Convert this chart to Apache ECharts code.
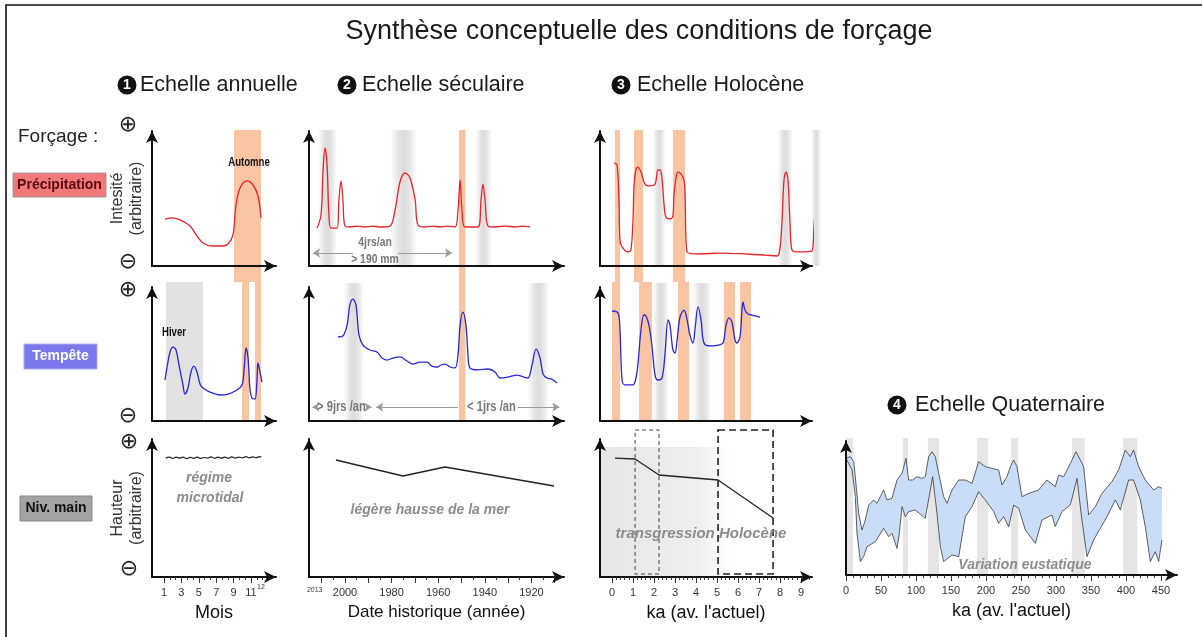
<!DOCTYPE html>
<html><head><meta charset="utf-8">
<script src="https://cdn.jsdelivr.net/npm/echarts@6/dist/echarts.min.js"></script>
<style>html,body{margin:0;padding:0;background:#fff}#c{width:1202px;height:637px}</style>
</head><body><div id="c"></div>
<script>
// ================= DATA =================
// Column 1 - annual scale, x = month, y = arbitrary intensity (0-100)
const monthTickLabels = [1, 3, 5, 7, 9, 11, 12];
const annualPrecip = [[1.11,34.8],[1.92,35.6],[2.84,34.1],[3.99,29.6],[4.79,22.2],[5.48,17.0],[6.52,14.8],[7.67,14.8],[8.36,16.3],[8.93,23.0],[9.28,45.2],[9.74,57.8],[10.54,63.0],[11.23,60.0],[11.80,51.9],[12.15,35.6]];
const annualStorm = [[1.11,30.6],[1.34,39.6],[1.69,51.5],[2.03,55.2],[2.38,53.0],[2.72,41.8],[3.18,26.9],[3.41,20.1],[3.76,24.6],[4.10,36.6],[4.45,41.0],[4.79,36.6],[5.14,27.6],[5.48,24.6],[6.29,21.6],[7.44,19.4],[8.36,20.1],[9.39,23.1],[9.97,26.9],[10.20,38.1],[10.43,54.5],[10.66,47.0],[10.89,23.1],[11.11,17.2],[11.46,16.4],[11.69,30.6],[11.80,43.3],[12.03,36.6],[12.26,29.1]];
const annualLevel = [[1.2,86.0],[1.6,86.9],[2.0,85.9],[2.4,86.8],[2.8,86.1],[3.2,86.9],[3.6,85.8],[4.0,86.7],[4.4,86.0],[4.8,86.9],[5.2,85.9],[5.6,86.6],[6.0,86.2],[6.4,87.0],[6.8,86.0],[7.2,86.8],[7.6,86.1],[8.0,86.9],[8.4,86.0],[8.8,87.1],[9.2,86.2],[9.6,86.9],[10.0,86.3],[10.4,87.2],[10.8,86.4],[11.2,87.0],[11.6,86.5],[12.0,87.2],[12.2,86.9]];
const annualAutumn = [[9.05, 12.15]];
const annualStormBands = [[9.97, 10.77], [11.46, 12.15]];
const annualWinter = [[1.23, 5.48]];

// Column 2 - secular scale, x = year
const yearTickLabels = [2013, 2000, 1980, 1960, 1940, 1920];
const secularPrecip = [[2012.0,28.1],[2010.3,37.8],[2009.4,71.1],[2008.6,87.4],[2007.7,74.8],[2006.9,37.8],[2006.0,28.1],[2003.4,28.1],[2002.6,48.9],[2001.7,63.0],[2000.9,48.9],[2000.0,29.6],[1997.9,28.9],[1994.4,29.6],[1991.4,28.9],[1988.4,29.6],[1985.0,28.9],[1980.7,29.6],[1978.5,41.5],[1976.4,62.2],[1974.2,68.9],[1972.1,65.2],[1969.9,48.9],[1968.7,30.4],[1965.7,28.9],[1962.7,29.6],[1959.2,28.9],[1956.2,29.6],[1952.8,28.9],[1951.5,41.5],[1950.6,63.7],[1949.8,41.5],[1948.5,28.9],[1942.9,28.9],[1941.6,48.9],[1940.8,60.7],[1939.9,48.9],[1938.6,29.6],[1935.6,28.9],[1931.3,29.6],[1927.0,28.9],[1924.0,29.6],[1920.6,28.9]];
const secularStorm = [[2003.0,62.7],[2000.9,63.4],[1999.1,71.6],[1997.9,86.6],[1996.6,91.0],[1995.3,86.6],[1994.0,64.2],[1992.3,56.7],[1989.3,53.0],[1986.3,51.5],[1984.1,47.0],[1982.0,45.5],[1979.4,47.0],[1976.4,47.8],[1973.4,44.8],[1970.8,42.5],[1967.8,44.0],[1964.8,44.0],[1962.7,41.0],[1960.5,40.3],[1958.8,41.8],[1957.1,42.5],[1954.9,40.3],[1952.8,39.6],[1951.5,49.3],[1950.6,71.6],[1949.4,81.3],[1948.1,71.6],[1947.2,49.3],[1946.4,39.6],[1942.9,38.1],[1938.6,38.8],[1935.6,36.6],[1933.5,32.1],[1930.0,32.8],[1926.2,34.3],[1923.2,32.8],[1921.5,32.1],[1919.7,41.8],[1918.0,53.7],[1916.3,47.0],[1915.0,35.1],[1913.3,32.1],[1911.2,31.3],[1909.0,28.4]];
const secularLevel = [[2003.9,84.8],[1975.1,73.2],[1957.1,79.7],[1910.3,65.9]];
const secularGreyTop = [[2011.5,2003.5],[1980.5,1969.0],[1944.0,1937.0]];
const secularOrange = [[1951.1,1948.3]];
const secularGreyMid = [[2000.5,1991.8],[1921.5,1912.5]];

// Column 3 - Holocene scale, x = ka before present
const holoTickLabels = [0,1,2,3,4,5,6,7,8,9];
const holoPrecip = [[0.10,76.3],[0.24,74.8],[0.33,48.9],[0.38,19.3],[0.48,14.1],[0.76,10.4],[0.90,11.9],[1.00,34.1],[1.05,60.0],[1.14,71.1],[1.24,73.3],[1.38,69.6],[1.57,60.7],[1.81,59.3],[2.05,60.7],[2.19,71.1],[2.29,71.1],[2.38,65.2],[2.48,45.2],[2.57,36.3],[2.76,34.8],[2.90,37.0],[2.95,52.6],[3.05,65.2],[3.14,69.6],[3.29,68.1],[3.43,63.7],[3.48,52.6],[3.57,10.4],[4.19,8.9],[5.14,9.6],[6.43,8.9],[7.29,8.1],[7.86,7.4],[8.00,13.3],[8.10,34.1],[8.19,63.7],[8.29,69.6],[8.38,63.7],[8.48,30.4],[8.57,11.9],[8.95,10.4],[9.52,11.1],[9.62,30.0],[9.72,45.0],[9.86,51.9]];
const holoStorm = [[0.00,82.1],[0.29,80.6],[0.38,67.9],[0.48,30.6],[0.62,26.9],[1.00,26.9],[1.14,32.1],[1.24,43.3],[1.38,67.9],[1.52,79.1],[1.62,78.4],[1.76,71.6],[1.90,56.7],[2.05,34.3],[2.19,30.6],[2.38,32.1],[2.52,49.3],[2.67,75.4],[2.76,71.6],[2.90,53.0],[3.00,50.7],[3.10,60.4],[3.24,77.6],[3.43,82.8],[3.57,76.1],[3.71,64.2],[3.86,58.2],[3.95,67.9],[4.10,85.1],[4.24,75.4],[4.38,58.2],[4.67,56.0],[5.05,56.7],[5.29,58.2],[5.43,71.6],[5.57,76.9],[5.71,73.9],[5.86,60.4],[5.95,58.2],[6.10,63.4],[6.19,82.8],[6.24,88.8],[6.33,82.8],[6.48,79.9],[6.67,79.1],[7.05,77.6]];
const holoLevel = [[0.14,86.2],[1.10,85.5],[2.24,73.9],[5.05,70.3],[7.67,42.8]];
const holoOrangeTop = [[0.14,0.38],[1.05,1.48],[2.90,3.48]];
const holoOrangeMid = [[0.0,0.38],[1.29,1.90],[3.14,3.67],[5.33,5.86],[6.10,6.62]];
const holoGreyTop = [[1.95,2.55],[7.9,8.6],[9.5,9.95]];
const holoGreyMid = [[1.95,2.7],[3.85,4.75]];
const holoTransgression = [[-0.57,6.1]];
const holoBoxes = [[1.10,2.24],[5.05,7.67]];

// Column 4 - Quaternary scale, x = ka before present
const quatTickLabels = [0,50,100,150,200,250,300,350,400,450];
const quatUpper = [[0,87.1],[6.2,88.3],[11.0,84.6],[13.3,73.4],[18.1,46.0],[22.9,33.6],[27.6,41.0],[32.4,52.2],[39.5,56.0],[44.3,53.5],[49.0,58.5],[53.8,63.4],[58.6,56.0],[65.7,57.2],[72.9,70.9],[80.0,75.9],[85.7,87.1],[89.5,70.9],[95.2,70.9],[101.4,73.4],[108.6,72.1],[113.3,73.4],[118.1,88.3],[122.9,92.0],[127.6,88.3],[132.4,75.9],[139.5,58.5],[144.3,53.5],[151.4,63.4],[161.0,70.9],[170.5,70.9],[180.0,68.4],[189.5,84.6],[199.0,80.8],[218.1,78.4],[222.9,67.2],[230.0,73.4],[234.8,80.8],[239.5,85.8],[244.3,80.8],[251.4,58.5],[261.0,60.9],[275.2,63.4],[287.1,70.9],[299.0,65.9],[303.8,74.6],[311.0,73.4],[320.5,83.3],[328.6,92.0],[334.8,85.8],[339.5,80.8],[346.7,44.8],[356.2,51.0],[365.7,60.9],[380.0,69.7],[389.5,78.4],[399.0,93.3],[406.2,88.3],[410.9,93.3],[418.1,80.8],[427.6,70.9],[439.5,63.4],[446.7,65.9],[451.4,64.7]];
const quatLower = [[0,87.1],[8.6,78.4],[13.3,58.5],[15.7,31.1],[20.5,10.0],[25.2,13.7],[30.0,21.1],[41.9,24.9],[53.8,34.8],[61.0,28.6],[65.7,31.1],[72.9,19.9],[76.2,31.1],[80.0,51.0],[84.8,43.5],[89.5,47.3],[99.0,48.5],[113.3,42.3],[123.8,73.4],[130.0,46.0],[134.8,21.1],[139.5,10.0],[151.4,14.9],[161.0,13.7],[170.5,43.5],[180.0,51.0],[189.5,62.2],[199.0,56.0],[211.0,47.3],[218.1,38.6],[225.2,43.5],[232.4,36.1],[239.5,52.2],[246.7,49.8],[256.2,33.6],[270.5,23.6],[280.0,41.0],[294.3,44.8],[299.0,36.1],[308.6,47.3],[320.5,52.2],[330.0,72.1],[337.1,41.0],[344.3,13.7],[353.8,26.1],[363.3,34.8],[372.9,43.5],[384.8,56.0],[391.9,48.5],[403.8,70.9],[410.9,70.9],[420.5,56.0],[427.6,36.1],[434.8,10.0],[441.9,17.4],[446.7,10.0],[451.4,26.1]];
const quatGrey = [[0,10],[81.4,88.6],[117,133],[187,203],[236,246],[323,341],[396,416]];

// ================= LAYOUT =================
const FONT = '"Liberation Sans", Arial, sans-serif';
const COL = {
  c1: {left:152, width:124, range:[-0.379, 13.874]},
  c2: {left:309, width:255, range:[-2015.45, -1906.0]},
  c3: {left:600, width:212, range:[-0.571, 9.524]},
  c4: {left:846, width:331, range:[0, 472.9]}
};
const ORANGE = '#f9c4a1';
const RED = '#e8232b', BLUE = '#2626dc';

const grids = [], xAxes = [], yAxes = [], series = [];
function addGrid(col, top, height, visible, yName) {
  const g = grids.length;
  grids.push({left:col.left, top:top, width:col.width, height:height, containLabel:false, outerBoundsMode:'none'});
  const axisLine = {show:visible, onZero:false, lineStyle:{color:'#111', width:2}, symbol:['none','arrow'], symbolSize:[9,12]};
  const xi = xAxes.length;
  xAxes.push({gridIndex:g, type:'value', min:col.range[0], max:col.range[1], show:visible, axisLine:axisLine,
    axisTick:{show:false}, axisLabel:{show:false}, splitLine:{show:false}, z:5});
  const yi = yAxes.length;
  const y = {gridIndex:g, type:'value', min:0, max:100, show:visible, axisLine:axisLine,
    axisTick:{show:false}, axisLabel:{show:false}, splitLine:{show:false}, z:5};
  if (yName) Object.assign(y, {name:yName, nameLocation:'middle', nameRotate:90, nameGap:6,
    nameTextStyle:{fontFamily:FONT, fontSize:16, color:'#333', lineHeight:19, align:'center'}});
  yAxes.push(y);
  return {g:g, x:xi, y:yi, col:col};
}
function addTicks(p, major, minor, labels, fmt, name, nameSize) {
  const base = {gridIndex:p.g, type:'value', min:p.col.range[0], max:p.col.range[1], position:'bottom',
    axisLine:{show:false, onZero:false}, splitLine:{show:false}, z:5};
  xAxes.push(Object.assign({}, base, {axisTick:{show:true, customValues:minor, length:3, lineStyle:{color:'#333', width:1}}, axisLabel:{show:false}}));
  xAxes.push(Object.assign({}, base, {
    axisTick:{show:true, customValues:major, length:6, lineStyle:{color:'#333', width:1}},
    axisLabel:{show:true, customValues:labels, formatter:fmt, margin:10, fontSize:11, color:'#333', fontFamily:FONT, hideOverlap:false,
      rich:{s:{fontSize:7, color:'#333', fontFamily:FONT, padding:[0,0,12,0]}}},
    name:name, nameLocation:'middle', nameGap:27, nameTextStyle:{fontSize:nameSize, color:'#111', fontFamily:FONT}}));
}
function addLine(p, data, color, width, smooth) {
  series.push({type:'line', xAxisIndex:p.x, yAxisIndex:p.y, data:data, showSymbol:false, symbol:'none',
    smooth:smooth, clip:false, silent:true, z:3, animation:false, lineStyle:{color:color, width:width}});
}
function addBands(p, ranges, style, z) {
  series.push({type:'custom', xAxisIndex:p.x, yAxisIndex:p.y, clip:false, silent:true, z:z || 1, animation:false,
    data: ranges.map(r => [r[0], r[1], 50]), encode:{x:[0,1], y:2},
    renderItem: function (params, api) {
      const a = api.coord([api.value(0), 100]);
      const b = api.coord([api.value(1), 0]);
      const st = typeof style === 'function' ? style(params.dataIndex) : style;
      return {type:'rect', shape:{x:Math.min(a[0], b[0]), y:a[1], width:Math.abs(b[0]-a[0]), height:b[1]-a[1]}, style:st};
    }});
}
const soft = () => new echarts.graphic.LinearGradient(0,0,1,0,[
  {offset:0, color:'rgba(222,222,222,0)'},{offset:0.3, color:'rgba(222,222,222,0.8)'},
  {offset:0.5, color:'rgba(218,218,218,0.95)'},{offset:0.7, color:'rgba(222,222,222,0.8)'},{offset:1, color:'rgba(222,222,222,0)'}]);
const neg = arr => arr.map(d => [-d[0], d[1]]);
const negR = arr => arr.map(r => [-r[0], -r[1]]);

// ---------- overlays (bands) ----------
const o1a = addGrid(COL.c1, 130, 152, false);
const o1b = addGrid(COL.c1, 282, 139, false);
const o2a = addGrid(COL.c2, 130, 136, false);
const o2b = addGrid(COL.c2, 130, 291, false);
const o2c = addGrid(COL.c2, 283, 138, false);
const o3a = addGrid(COL.c3, 130, 152, false);
const o3b = addGrid(COL.c3, 282, 139, false);
const o3c = addGrid(COL.c3, 130, 136, false);
const o3d = addGrid(COL.c3, 283, 138, false);
const o3e = addGrid(COL.c3, 447, 130, false);
const o3f = addGrid(COL.c3, 430, 144, false);
const o4 = addGrid(COL.c4, 438, 137, false);

addBands(o1a, annualAutumn, {fill:ORANGE});
addBands(o1b, annualWinter, {fill:'#e2e2e2'});
addBands(o1b, annualStormBands, {fill:ORANGE});
addBands(o2a, negR(secularGreyTop), {fill:soft()});
addBands(o2c, negR(secularGreyMid), {fill:soft()});
addBands(o2b, negR(secularOrange), {fill:ORANGE});
addBands(o3c, holoGreyTop, {fill:soft()});
addBands(o3d, holoGreyMid, {fill:soft()});
addBands(o3a, holoOrangeTop, {fill:ORANGE});
addBands(o3b, holoOrangeMid, {fill:ORANGE});
addBands(o3e, holoTransgression, {fill:new echarts.graphic.LinearGradient(0,0,1,0,[
  {offset:0, color:'#e6e6e6'},{offset:0.7, color:'#eeeeee'},{offset:1, color:'rgba(248,248,248,0)'}])});
addBands(o3f, holoBoxes, i => i === 0
  ? {fill:'none', stroke:'#444', lineWidth:1, lineDash:[4,3]}
  : {fill:'none', stroke:'#222', lineWidth:1.6, lineDash:[7,4]}, 4);
addBands(o4, quatGrey, {fill:'#e5e5e5'});

// ---------- panels ----------
const p11 = addGrid(COL.c1, 131, 135, true, 'Intesité\n(arbitraire)');
const p12 = addGrid(COL.c1, 287, 134, true);
const p13 = addGrid(COL.c1, 439, 138, true, 'Hauteur\n(arbitraire)');
const p21 = addGrid(COL.c2, 131, 135, true);
const p22 = addGrid(COL.c2, 287, 134, true);
const p23 = addGrid(COL.c2, 439, 138, true);
const p31 = addGrid(COL.c3, 131, 135, true);
const p32 = addGrid(COL.c3, 287, 134, true);
const p33 = addGrid(COL.c3, 439, 138, true);
const p4 = addGrid(COL.c4, 441, 134, true);

// ticks
const monthMajor = monthTickLabels.filter(v => v % 2 === 1);
const monthMinor = [];
monthMajor.forEach(m => { monthMinor.push(m + 2/3, m + 4/3); });
addTicks(p13, monthMajor, monthMinor, monthTickLabels.filter(v => v < 12), v => String(v), 'Mois', 18);

const yearMajor = [], yearMinor = [];
for (let y = 2010; y >= 1910; y -= 10) { yearMajor.push(-y); yearMinor.push(-(y - 5)); }
addTicks(p23, yearMajor, yearMinor, yearTickLabels.map(v => -v), v => (-v === 2013 ? '{s|2013}' : String(-v)), 'Date historique (année)', 17);

const holoMinor = [];
holoTickLabels.forEach(k => { for (let j = 1; j < 5; j++) holoMinor.push(k + j / 5); });
addTicks(p33, holoTickLabels, holoMinor, holoTickLabels, v => String(v), "ka (av. l'actuel)", 18);

const quatMinor = [];
quatTickLabels.slice(0, -1).forEach(k => { for (let j = 1; j < 5; j++) quatMinor.push(k + j * 10); });
addTicks(p4, quatTickLabels, quatMinor, quatTickLabels, v => String(v), "ka (av. l'actuel)", 18);

// curves
addLine(p11, annualPrecip, RED, 1.3, 0.35);
addLine(p12, annualStorm, BLUE, 1.3, 0.35);
addLine(p13, annualLevel, '#222', 1.2, 0.5);
addLine(p21, neg(secularPrecip), RED, 1.3, 0.35);
addLine(p22, neg(secularStorm), BLUE, 1.3, 0.35);
addLine(p23, neg(secularLevel), '#222', 1.6, false);
addLine(p31, holoPrecip, RED, 1.3, 0.35);
addLine(p32, holoStorm, BLUE, 1.3, 0.35);
addLine(p33, holoLevel, '#222', 1.3, false);

series.push({type:'custom', xAxisIndex:p4.x, yAxisIndex:p4.y, clip:false, silent:true, z:2, animation:false,
  data:[[200, 50]], encode:{x:0, y:1},
  renderItem: function (params, api) {
    const pts = quatUpper.map(d => api.coord(d)).concat(quatLower.slice().reverse().map(d => api.coord(d)));
    return {type:'polygon', shape:{points:pts}, style:{fill:'#c9dcf8'}};
  }});
addLine(p4, quatUpper, '#3a3a3a', 0.8, false);
addLine(p4, quatLower, '#3a3a3a', 0.8, false);

// annotation arrows (column 2)
const ARW = {symbol:'arrow', symbolSize:7};
series.push({type:'line', xAxisIndex:p21.x, yAxisIndex:p21.y, data:[], silent:true, animation:false,
  markLine:{silent:true, animation:false, label:{show:false}, lineStyle:{color:'#9a9a9a', width:1, type:'solid'},
    data:[
      [Object.assign({coord:[-2013.7, 9.6]}, ARW), {coord:[-1996.6, 9.6], symbol:'none'}],
      [{coord:[-1977.3, 9.6], symbol:'none'}, Object.assign({coord:[-1954.1, 9.6]}, ARW)]
    ]}});
series.push({type:'line', xAxisIndex:p22.x, yAxisIndex:p22.y, data:[], silent:true, animation:false,
  markLine:{silent:true, animation:false, label:{show:false}, lineStyle:{color:'#9a9a9a', width:1, type:'solid'},
    data:[
      [Object.assign({coord:[-2014.0, 10.4]}, ARW), {coord:[-2012.6, 10.4], symbol:'none'}],
      [{coord:[-1990.5, 10.4], symbol:'none'}, Object.assign({coord:[-1988.6, 10.4]}, ARW)],
      [Object.assign({coord:[-1986.6, 10.4]}, ARW), {coord:[-1951.5, 10.4], symbol:'none'}],
      [{coord:[-1925.8, 10.4], symbol:'none'}, Object.assign({coord:[-1908.0, 10.4]}, ARW)]
    ]}});

// ================= TEXT / DECORATION =================
function txt(text, x, y, o) {
  return {type:'text', z:20, silent:true, style:Object.assign({text:text, x:x, y:y, fontFamily:FONT, fontSize:14, fill:'#111',
    textAlign:'center', textVerticalAlign:'middle', align:'center', verticalAlign:'middle'}, o || {})};
}
// condensed bold label: the element is placed at (x, y) and squeezed horizontally
function narrow(text, x, y, size, color, alignLeft) {
  const a = alignLeft ? 'left' : 'center';
  return {type:'text', z:20, silent:true, x:x, y:y, scaleX:0.8, scaleY:1,
    style:{text:text, x:0, y:0, fontFamily:FONT, fontWeight:'bold', fontSize:size, fill:color,
      textAlign:a, align:a, textVerticalAlign:'middle', verticalAlign:'middle'}};
}
const italicGrey = {fontStyle:'italic', fontWeight:'bold', fill:'#8c8c8c'};
const SYM = {fontFamily:'"DejaVu Sans"', fontSize:22, fill:'#222'};
const graphics = [
  {type:'polyline', z:20, silent:true, shape:{points:[[6,637],[6,5],[1202,5]]}, style:{stroke:'#111', lineWidth:1.6, fill:'none'}},
  txt('Synthèse conceptuelle des conditions de forçage', 639, 32, {fontSize:27, fill:'#1a1a1a'}),
  txt('Forçage :', 18, 137, {fontSize:19, textAlign:'left', align:'left', fill:'#222'}),
  {type:'rect', z:19, silent:true, shape:{x:13, y:173, width:93, height:24}, style:{fill:'#f27979', stroke:'#9a9a9a', lineWidth:1}},
  txt('Précipitation', 59.5, 185, {fontWeight:'bold', fontSize:14, fill:'#5a0c0c'}),
  {type:'rect', z:19, silent:true, shape:{x:24, y:344, width:73, height:25}, style:{fill:'#7b78ee', stroke:'#aaaaee', lineWidth:1}},
  txt('Tempête', 60.5, 356.5, {fontWeight:'bold', fontSize:14, fill:'#ffffff'}),
  {type:'rect', z:19, silent:true, shape:{x:20, y:496, width:72, height:25}, style:{fill:'#a3a3a3', stroke:'#888', lineWidth:1}},
  txt('Niv. main', 56, 508.5, {fontWeight:'bold', fontSize:14, fill:'#111'}),
  // plus / minus marks
  txt('⊕', 128, 125, SYM), txt('⊖', 128, 262, SYM),
  txt('⊕', 128, 290, SYM), txt('⊖', 128, 416, SYM),
  txt('⊕', 129, 442, SYM), txt('⊖', 129, 569, SYM),
  // small "12" at the end of the month axis
  txt('12', 261, 587, {fontSize:7, fill:'#333'}),
  // in-panel annotations
  narrow('Automne', 249, 163, 12, '#111'),
  narrow('Hiver', 174, 333, 12, '#111'),
  narrow('4jrs/an', 375, 242, 13, '#777'),
  narrow('> 190 mm', 375, 259, 13, '#777'),
  narrow('> 9jrs /an', 317, 407, 14, '#777', true),
  narrow('< 1jrs /an', 467, 407, 14, '#777', true),
  txt('régime', 209, 478, italicGrey),
  txt('microtidal', 210, 498, italicGrey),
  txt('légère hausse de la mer', 430, 510, italicGrey),
  txt('transgression Holocène', 701, 534, Object.assign({}, italicGrey, {fontSize:15})),
  txt('Variation eustatique', 1025, 565, italicGrey)
];
// column headers with numbered black discs
[[127, 85, '1', 140, 'Echelle annuelle'], [347, 85, '2', 362, 'Echelle séculaire'],
 [621, 85, '3', 637, 'Echelle Holocène'], [897, 405, '4', 915, 'Echelle Quaternaire']].forEach(h => {
  graphics.push({type:'circle', z:20, silent:true, shape:{cx:h[0], cy:h[1], r:9.5}, style:{fill:'#111'}});
  graphics.push(txt(h[2], h[0], h[1] + 0.5, {fontWeight:'bold', fontSize:14, fill:'#fff'}));
  graphics.push(txt(h[4], h[3], h[1], {fontSize:21.5, fill:'#1a1a1a', textAlign:'left', align:'left'}));
});

const chart = echarts.init(document.getElementById('c'), null, {renderer:'canvas', width:1202, height:637});
chart.setOption({
  animation:false,
  backgroundColor:'#ffffff',
  grid:grids, xAxis:xAxes, yAxis:yAxes, series:series,
  graphic:{elements:graphics}
});
</script>
</body></html>
